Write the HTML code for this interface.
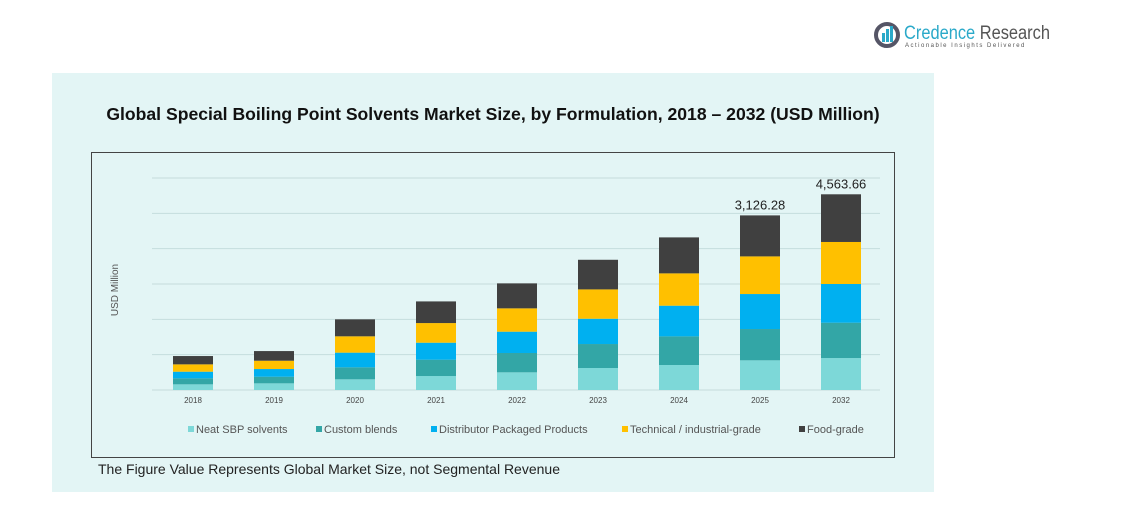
<!DOCTYPE html>
<html><head><meta charset="utf-8"><style>
body{margin:0;width:1132px;height:508px;background:#fff;position:relative;overflow:hidden;font-family:"Liberation Sans",sans-serif}
#panel{position:absolute;left:52px;top:73px;width:882px;height:419px;background:#e3f5f5}
#title{position:absolute;left:52px;top:104px;width:882px;text-align:center;font-weight:bold;font-size:17.6px;color:#111}
#frame{position:absolute;left:91px;top:152px;width:802px;height:304px;border:1px solid #444}
#foot{position:absolute;left:98px;top:461px;font-size:14px;color:#222}
#logo{position:absolute;left:874px;top:20px}
</style></head><body>
<div id="panel"></div>
<div id="logo">
<svg width="200" height="32"><circle cx="13" cy="15" r="11" fill="none" stroke="#556" stroke-width="4"/><rect x="8" y="13" width="3" height="9" fill="#2aa9c9"/><rect x="12" y="9" width="3" height="13" fill="#2aa9c9"/><rect x="16" y="6" width="3" height="16" fill="#2aa9c9"/>
<text x="30" y="19" font-size="19" fill="#2aa9c9" font-family="Liberation Sans" textLength="146" lengthAdjust="spacingAndGlyphs">Credence <tspan fill="#555">Research</tspan></text>
<text x="31" y="27" font-size="6" fill="#555" letter-spacing="1.5" font-family="Liberation Sans">Actionable Insights Delivered</text></svg></div>
<div id="title">Global Special Boiling Point Solvents Market Size, by Formulation, 2018 – 2032 (USD Million)</div>
<div id="frame"></div>
<svg id="chart" width="1132" height="508" style="position:absolute;left:0;top:0"></svg>
<div id="foot">The Figure Value Represents Global Market Size, not Segmental Revenue</div>
<script>
const categories=["2018","2019","2020","2021","2022","2023","2024","2025","2032"];
const seriesNames=["Neat SBP solvents","Custom blends","Distributor Packaged Products","Technical / industrial-grade","Food-grade"];
const neat=[132,155,249,326,412,513,583,692,746];
const custom=[140,155,280,381,451,559,668,730,824];
const distributor=[155,179,342,396,497,590,715,816,902];
const technical=[171,194,381,458,544,684,754,878,980];
const food=[194,225,396,505,583,691,839,956,1112];
const totalLabels=["","","","","","","","3,126.28","4,563.66"];
const gridTicks=[0,824,1648,2472,3296,4120,4944];
const colors=["#7dd8d8","#33a6a6","#00b0f0","#ffc000","#404040"];
const series=[neat,custom,distributor,technical,food];
const NS="http://www.w3.org/2000/svg",svg=document.getElementById('chart');
const y0=390,pxPer=212/4944;
const yS=v=>y0-v*pxPer, xS=i=>193+i*81;
function mk(t,a){const e=document.createElementNS(NS,t);for(const k in a)e.setAttribute(k,a[k]);svg.appendChild(e);return e;}
gridTicks.forEach(t=>{const l=mk('line',{x1:152,x2:880,y1:yS(t),y2:yS(t),stroke:'#c5dcdc','stroke-width':1});

});
const yt=mk('text',{x:118,y:290,'font-size':10,fill:'#555',transform:'rotate(-90 118 290)','text-anchor':'middle'});yt.textContent='USD Million';


categories.forEach((c,i)=>{let acc=0;
series.forEach((s,j)=>{const r=mk('rect',{x:xS(i)-20,width:40,y:yS(acc+s[i]),height:s[i]*pxPer,fill:colors[j]});


acc+=s[i];});
const t=mk('text',{x:xS(i),y:403,'font-size':8,fill:'#444','text-anchor':'middle'});t.textContent=c;


if(totalLabels[i]){const v=mk('text',{x:xS(i),y:yS(acc)-6,'font-size':13,fill:'#222','text-anchor':'middle'});v.textContent=totalLabels[i];

}
});
const lx=[188,316,431,622,799];
seriesNames.forEach((n,j)=>{mk('rect',{x:lx[j],y:426,width:6,height:6,fill:colors[j]});
const t=mk('text',{x:lx[j]+8,y:433,'font-size':11,fill:'#555'});t.textContent=n;

});
</script>
</body></html>
